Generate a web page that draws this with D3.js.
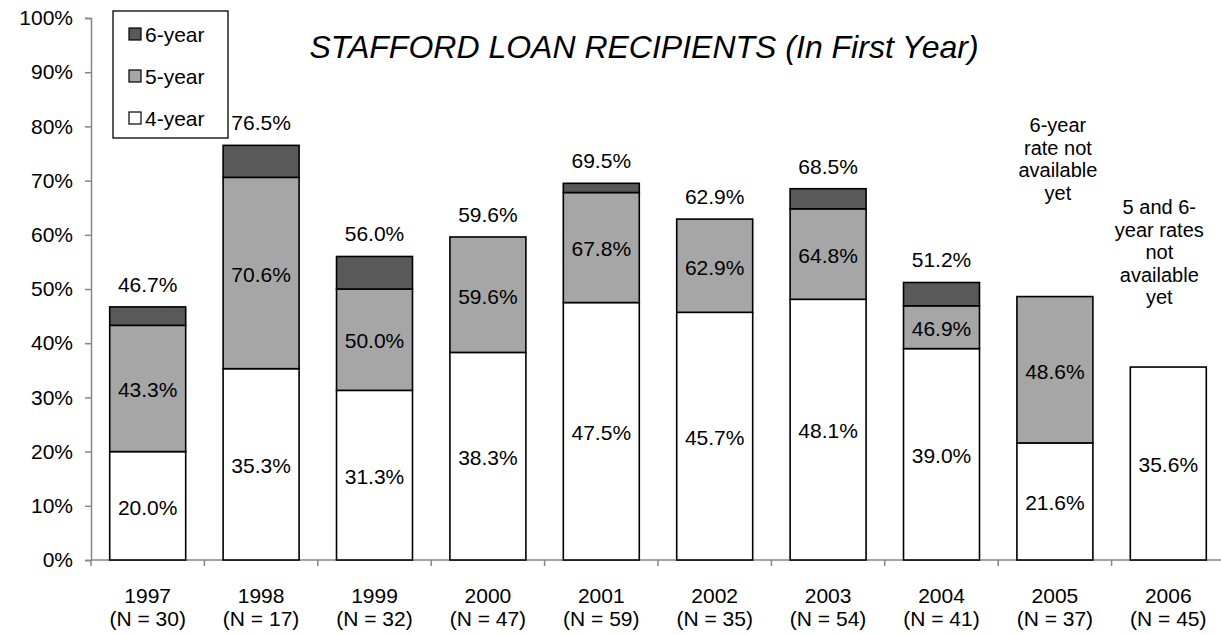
<!DOCTYPE html>
<html><head><meta charset="utf-8">
<script src="https://cdn.jsdelivr.net/npm/d3@7"></script>
<style>
body{margin:0;background:#fff;}
text{font-family:"Liberation Sans",Arial,sans-serif;fill:#000;}
</style></head>
<body><svg id="c" width="1221" height="634"></svg>
<script>
const years = ["1997","1998","1999","2000","2001","2002","2003","2004","2005","2006"];
const nCounts = [30,17,32,47,59,35,54,41,37,45];
const rate4 = [20.0,35.3,31.3,38.3,47.5,45.7,48.1,39.0,21.6,35.6];
const rate5 = [43.3,70.6,50.0,59.6,67.8,62.9,64.8,46.9,48.6,null];
const rate6 = [46.7,76.5,56.0,59.6,69.5,62.9,68.5,51.2,null,null];
const yTicks = [0,10,20,30,40,50,60,70,80,90,100];
const seriesNames = ["6-year","5-year","4-year"];
const notes = [
  {year:"2005", lines:["6-year","rate not","available","yet"]},
  {year:"2006", lines:["5 and 6-","year rates","not","available","yet"]}
];
const title = "STAFFORD LOAN RECIPIENTS (In First Year)";

const svg = d3.select("#c");
const colors = {"6-year":"#595959","5-year":"#a6a6a6","4-year":"#ffffff"};
const axisColor = "#868686";

const x = d3.scaleBand().domain(years).range([91,1225]).paddingInner(0.33).paddingOuter(0.165);
const y = d3.scaleLinear().domain([0,100]).range([560,18]);

// axes
const yAxis = svg.append("g").attr("transform","translate(91,0)")
  .call(d3.axisLeft(y).tickValues(yTicks).tickSize(6).tickFormat(d=>d+"%"));
yAxis.select(".domain").attr("stroke",axisColor).attr("stroke-width",1.5);
yAxis.selectAll(".tick line").attr("stroke",axisColor).attr("stroke-width",1.5);
yAxis.selectAll(".tick text").attr("font-size",21).attr("x",-18).attr("fill","#000");

const xAxisG = svg.append("g");
xAxisG.append("line").attr("x1",91).attr("x2",1221).attr("y1",y(0)).attr("y2",y(0))
  .attr("stroke",axisColor).attr("stroke-width",1.5);
years.forEach((d,i)=>{
  const bx = x(d) - x.step()*x.paddingInner()/2;
  xAxisG.append("line").attr("x1",bx).attr("x2",bx).attr("y1",y(0)).attr("y2",y(0)+6)
    .attr("stroke",axisColor).attr("stroke-width",1.5);
});

// bars
const segs = [];
years.forEach((yr,i)=>{
  segs.push({yr, s:"4-year", y0:0, y1:rate4[i]});
  if(rate5[i]!=null) segs.push({yr, s:"5-year", y0:rate4[i], y1:rate5[i]});
  if(rate6[i]!=null && rate6[i]>rate5[i]) segs.push({yr, s:"6-year", y0:rate5[i], y1:rate6[i]});
});
svg.append("g").selectAll("rect").data(segs).join("rect")
  .attr("x",d=>x(d.yr)).attr("width",x.bandwidth())
  .attr("y",d=>y(d.y1)).attr("height",d=>y(d.y0)-y(d.y1))
  .attr("fill",d=>colors[d.s]).attr("stroke","#000").attr("stroke-width",1.6);

// labels
const lab = svg.append("g").attr("font-size",21).attr("text-anchor","middle");
years.forEach((yr,i)=>{
  const cx = x(yr)+x.bandwidth()/2;
  lab.append("text").attr("x",cx).attr("y",y(rate4[i]/2)).attr("dy","0.42em").text(rate4[i].toFixed(1)+"%");
  if(rate5[i]!=null)
    lab.append("text").attr("x",cx).attr("y",y((rate4[i]+rate5[i])/2)).attr("dy","0.42em").text(rate5[i].toFixed(1)+"%");
  if(rate6[i]!=null)
    lab.append("text").attr("x",cx).attr("y",y(rate6[i])-15).text(rate6[i].toFixed(1)+"%");
});

// x labels
const xl = svg.append("g").attr("font-size",21).attr("text-anchor","middle");
years.forEach((yr,i)=>{
  const cx = x(yr)+x.bandwidth()/2;
  xl.append("text").attr("x",cx).attr("y",603).text(yr);
  xl.append("text").attr("x",cx).attr("y",626).text("(N = "+nCounts[i]+")");
});

// notes
notes.forEach((n,k)=>{
  const cx = x(n.year)+x.bandwidth()/2 + (k===0?3:-9);
  const startY = k===0 ? 132 : 214;
  n.lines.forEach((l,j)=>{
    svg.append("text").attr("x",cx).attr("y",startY+j*22.6).attr("font-size",20)
      .attr("text-anchor","middle").text(l);
  });
});

// title
svg.append("text").attr("x",644).attr("y",58).attr("text-anchor","middle")
  .attr("font-size",32).attr("font-style","italic").text(title);

// legend
const lg = svg.append("g");
lg.append("rect").attr("x",113).attr("y",11).attr("width",115).attr("height",127)
  .attr("fill","#fff").attr("stroke","#000").attr("stroke-width",1.3);
seriesNames.forEach((s,j)=>{
  const cy = 34 + j*42;
  lg.append("rect").attr("x",129).attr("y",cy-6).attr("width",12).attr("height",12)
    .attr("fill",colors[s]).attr("stroke","#000").attr("stroke-width",1.2);
  lg.append("text").attr("x",145).attr("y",cy).attr("dy","0.36em").attr("font-size",21).text(s);
});
</script></body></html>
